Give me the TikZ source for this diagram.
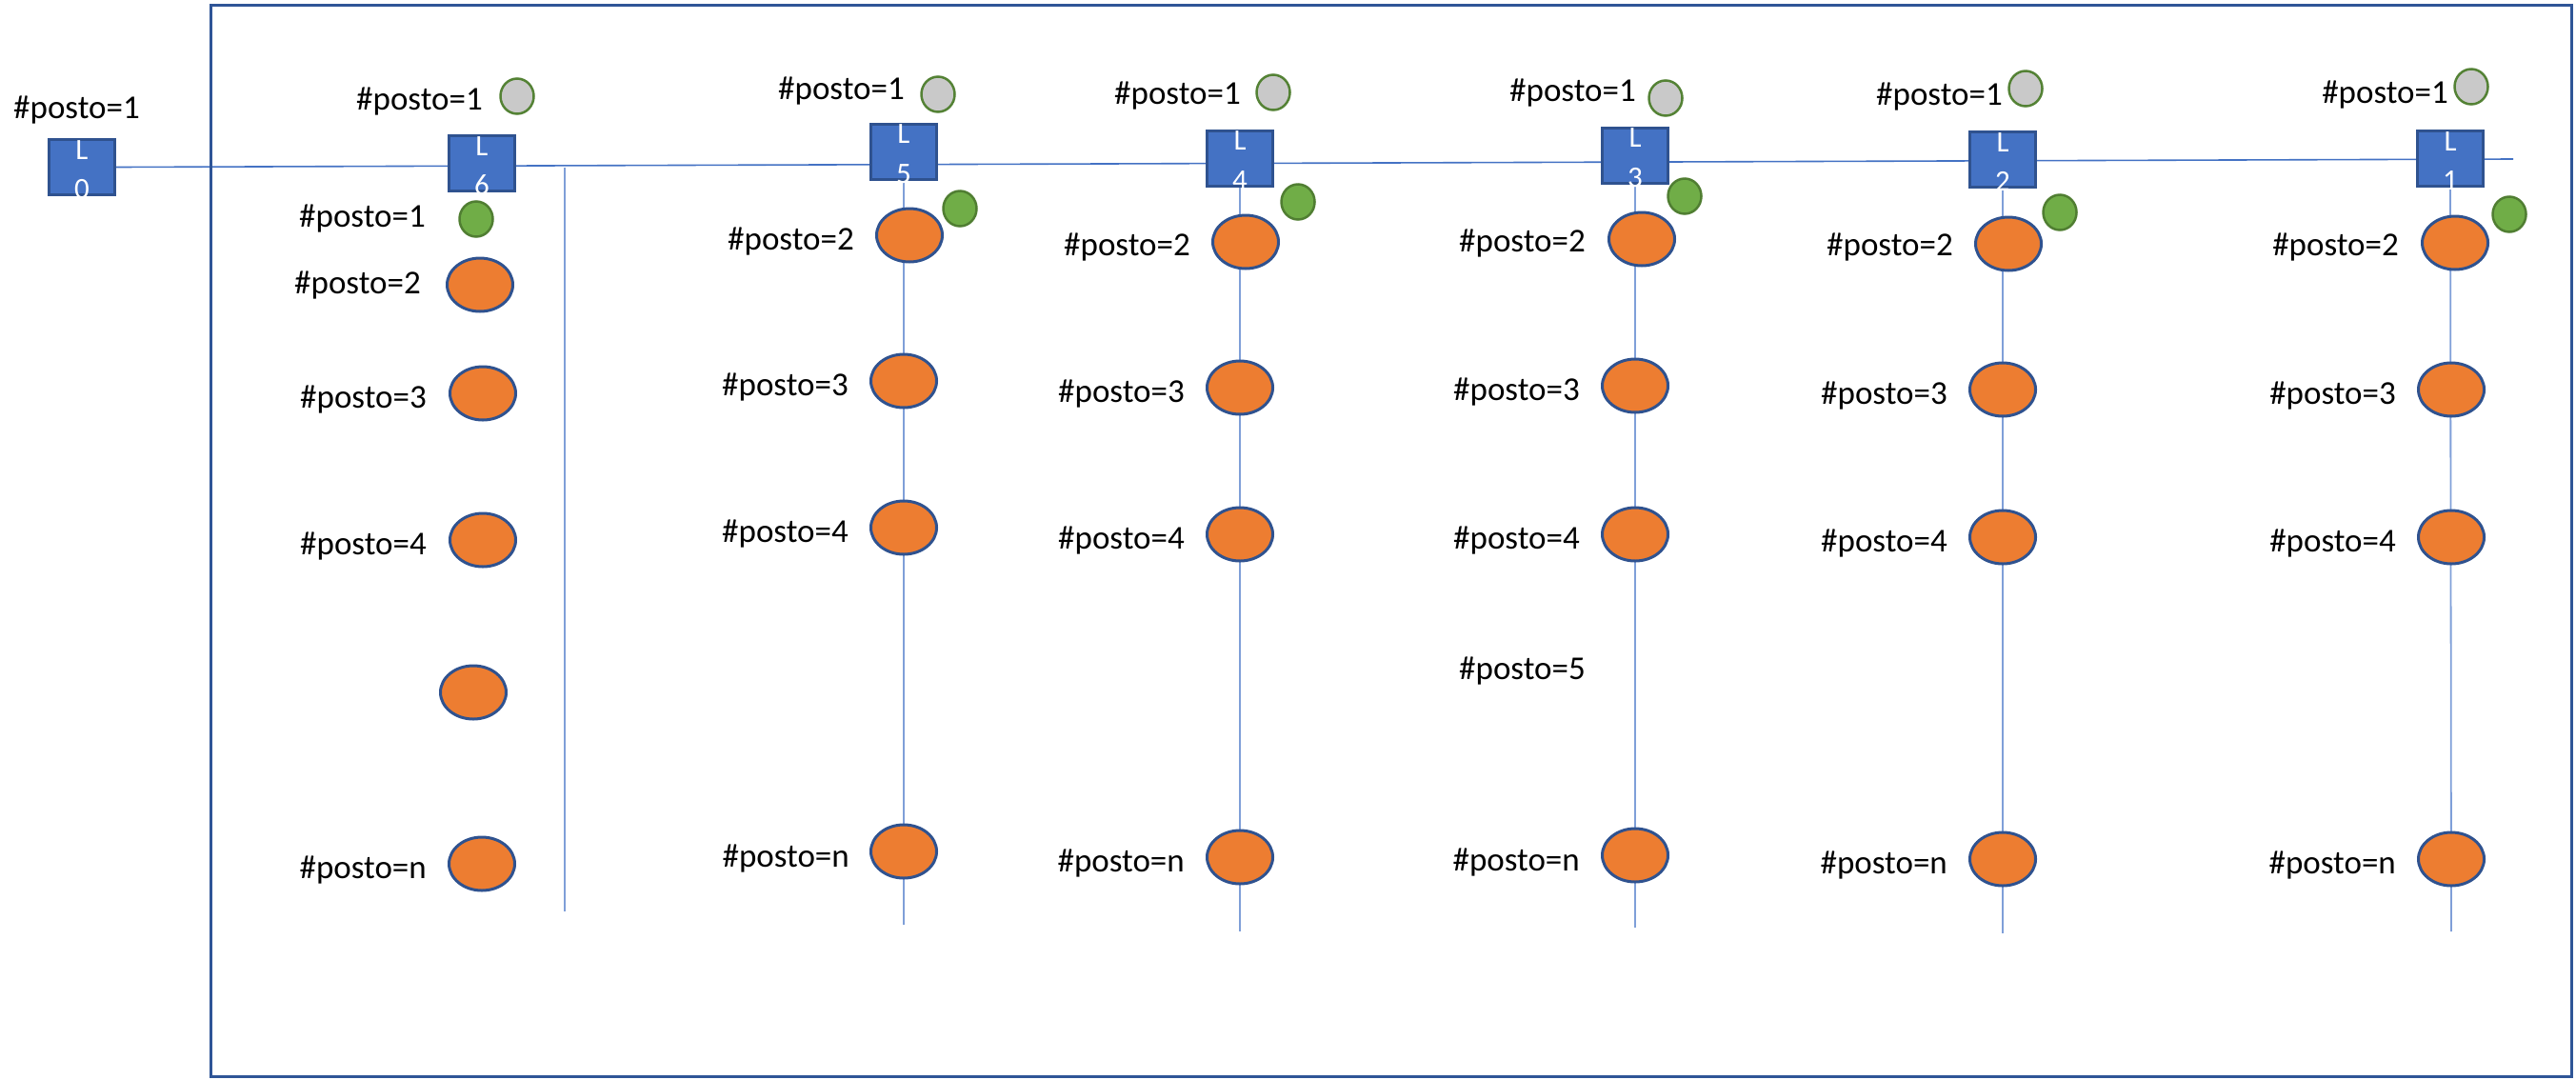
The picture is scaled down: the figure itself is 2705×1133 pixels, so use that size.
\documentclass[tikz,border=0pt]{standalone}
\usepackage{fontspec}
\setmainfont{Carlito}
\usetikzlibrary{shapes.geometric}
\pgfdeclarelayer{background}
\pgfsetlayers{background,main}
\definecolor{boxfill}{HTML}{4472C4}
\definecolor{boxedge}{HTML}{2F528F}
\definecolor{framec}{HTML}{2F5597}
\definecolor{hlinec}{HTML}{4472C4}
\definecolor{vlinec}{HTML}{7F9FD8}
\definecolor{orfill}{HTML}{ED7D31}
\definecolor{gnfill}{HTML}{70AD47}
\definecolor{gnedge}{HTML}{507E32}
\definecolor{gyfill}{HTML}{C9C9C9}
\definecolor{gyedge}{HTML}{548235}
\begin{document}
\begin{tikzpicture}[x=1pt,y=-1pt,
  lbox/.style={rectangle, draw=boxedge, line width=3pt, fill=boxfill, minimum width=69pt, minimum height=58pt, inner sep=0pt},
  orng/.style={ellipse, draw=boxedge, line width=3pt, fill=orfill, minimum width=69pt, minimum height=56pt, inner sep=0pt},
  grn/.style={ellipse, draw=gnedge, line width=2.5pt, fill=gnfill, minimum width=35pt, minimum height=37pt, inner sep=0pt},
  gry/.style={ellipse, draw=gyedge, line width=2.5pt, fill=gyfill, minimum width=35pt, minimum height=37pt, inner sep=0pt},
  txt/.style={font=\fontsize{35}{42}\selectfont, inner sep=0pt, anchor=base east},
  ltxt/.style={font=\fontsize{31}{37}\selectfont, text=white, inner sep=0pt, anchor=base},
  hline/.style={draw=hlinec, line width=1.6pt},
  vline/.style={draw=vlinec, line width=1.8pt},
  framel/.style={draw=framec, line width=3pt}]
\begin{pgfonlayer}{background}
\fill[white] (0,0) rectangle (2705,1133);
\end{pgfonlayer}
\useasboundingbox (0,0) rectangle (2705,1133);
\draw[framel] (221,5) rectangle (2700,1130);

% boxes
\node[lbox] (L0) at (86,175.5) {};
\node[lbox] (L6) at (506,171.5) {};
\node[lbox] (L5) at (949,159) {};
\node[lbox] (L4) at (1302,166) {};
\node[lbox] (L3) at (1717,163) {};
\node[lbox] (L2) at (2103,167.5) {};
\node[lbox] (L1) at (2573,166.5) {};

% L0
\node[txt] (t0a) at (147,124) {\#posto=1};

% column L6
\node[gry] (g6) at (543,101) {};
\node[grn] (n6) at (500,230) {};
\node[orng] (o6a) at (504,299) {};
\node[orng] (o6b) at (507,413) {};
\node[orng] (o6c) at (507,567) {};
\node[orng] (o6d) at (497,727) {};
\node[orng] (o6n) at (506,907) {};
\node[txt] (t6a) at (507,115) {\#posto=1};
\node[txt] (t6g) at (447,238) {\#posto=1};
\node[txt] (t6b) at (442,308) {\#posto=2};
\node[txt] (t6c) at (448,428) {\#posto=3};
\node[txt] (t6d) at (448,582) {\#posto=4};
\node[txt] (t6n) at (448,922) {\#posto=n};

% column L5
\node[gry] (g5) at (985,99) {};
\node[grn] (n5) at (1008,219) {};
\node[orng] (o5a) at (955,247) {};
\node[orng] (o5b) at (949,400) {};
\node[orng] (o5c) at (949,554) {};
\node[orng] (o5n) at (949,894) {};
\node[txt] (t5a) at (950,104) {\#posto=1};
\node[txt] (t5b) at (897,262) {\#posto=2};
\node[txt] (t5c) at (891,415) {\#posto=3};
\node[txt] (t5d) at (891,569) {\#posto=4};
\node[txt] (t5n) at (892,910) {\#posto=n};

% column L4
\node[gry] (g4) at (1337,97) {};
\node[grn] (n4) at (1363,212) {};
\node[orng] (o4a) at (1308,254) {};
\node[orng] (o4b) at (1302,407) {};
\node[orng] (o4c) at (1302,561) {};
\node[orng] (o4n) at (1302,900) {};
\node[txt] (t4a) at (1303,109) {\#posto=1};
\node[txt] (t4b) at (1250,268) {\#posto=2};
\node[txt] (t4c) at (1244,422) {\#posto=3};
\node[txt] (t4d) at (1244,576) {\#posto=4};
\node[txt] (t4n) at (1244,915) {\#posto=n};

% column L3
\node[gry] (g3) at (1749,103) {};
\node[grn] (n3) at (1769,206) {};
\node[orng] (o3a) at (1724,251) {};
\node[orng] (o3b) at (1717,405) {};
\node[orng] (o3c) at (1717,561) {};
\node[orng] (o3n) at (1717,898) {};
\node[txt] (t3a) at (1718,106) {\#posto=1};
\node[txt] (t3b) at (1665,264) {\#posto=2};
\node[txt] (t3c) at (1659,420) {\#posto=3};
\node[txt] (t3d) at (1659,576) {\#posto=4};
\node[txt] (t3e) at (1665,713) {\#posto=5};
\node[txt] (t3n) at (1659,914) {\#posto=n};

% column L2
\node[gry] (g2) at (2127,93) {};
\node[grn] (n2) at (2163,223) {};
\node[orng] (o2a) at (2109,256) {};
\node[orng] (o2b) at (2103,409) {};
\node[orng] (o2c) at (2103,564) {};
\node[orng] (o2n) at (2103,902) {};
\node[txt] (t2a) at (2103,110) {\#posto=1};
\node[txt] (t2b) at (2051,268) {\#posto=2};
\node[txt] (t2c) at (2045,424) {\#posto=3};
\node[txt] (t2d) at (2045,579) {\#posto=4};
\node[txt] (t2n) at (2045,917) {\#posto=n};

% column L1
\node[gry] (g1) at (2595,91) {};
\node[grn] (n1) at (2635,225) {};
\node[orng] (o1a) at (2578,255) {};
\node[orng] (o1b) at (2574,409) {};
\node[orng] (o1c) at (2574,564) {};
\node[orng] (o1n) at (2574,902) {};
\node[txt] (t1a) at (2571,108) {\#posto=1};
\node[txt] (t1b) at (2519,268) {\#posto=2};
\node[txt] (t1c) at (2516,424) {\#posto=3};
\node[txt] (t1d) at (2516,579) {\#posto=4};
\node[txt] (t1n) at (2516,917) {\#posto=n};

% box labels (white, digit runs past the box bottom)
\foreach \n/\x/\y in {0/86/175.5, 6/506/171.5, 5/949/159, 4/1302/166, 3/1717/163, 2/2103/167.5, 1/2573/166.5}{
  \node[ltxt] (bl\n) at (\x,\y-8.5) {L};
  \node[ltxt] (bd\n) at (\x,\y+33) {\n};
}

% connectors (behind the shapes)
\coordinate (hend) at (2639,167);
\coordinate (t6) at (593,175.5);
\coordinate (e6) at (593,957);
\coordinate (e5) at (949,971);
\coordinate (e4) at (1302,978);
\coordinate (e3) at (1717,974);
\coordinate (e2) at (2103,980);
\coordinate (e1) at (2574,978);
\begin{pgfonlayer}{background}
\draw[hline] (L0.east) -- (hend);
\draw[vline] (t6) -- (e6);
\draw[vline] (L5.south) -- (e5);
\draw[vline] (L4.south) -- (e4);
\draw[vline] (L3.south) -- (e3);
\draw[vline] (L2.south) -- (e2);
\draw[vline] (L1.south) -- (e1);
\end{pgfonlayer}
\end{tikzpicture}
\end{document}
